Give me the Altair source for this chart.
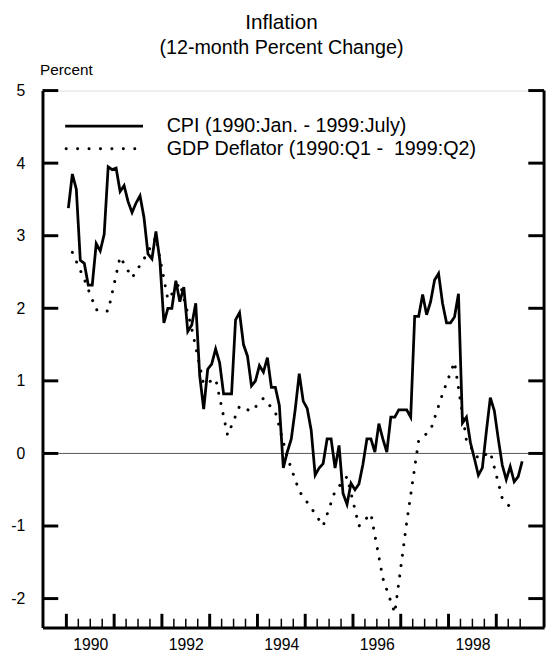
import altair as alt
import pandas as pd

# ---- data ----
cpi_values = [3.38, 3.85, 3.64, 2.66, 2.62, 2.32, 2.32, 2.89, 2.79, 3.02,
              3.95, 3.91, 3.93, 3.61, 3.69, 3.47, 3.32, 3.45, 3.55, 3.25,
              2.75, 2.68, 3.06, 2.65, 1.80, 2.00, 2.00, 2.38, 2.09, 2.29,
              1.68, 1.77, 2.07, 1.07, 0.61, 1.16, 1.23, 1.44, 1.25, 0.82,
              0.82, 0.82, 1.84, 1.94, 1.50, 1.34, 0.93, 1.00, 1.21, 1.12,
              1.32, 0.91, 0.91, 0.66, -0.20, 0.02, 0.20, 0.61, 1.10, 0.72,
              0.62, 0.32, -0.30, -0.20, -0.14, 0.20, 0.20, -0.20, 0.11, -0.55,
              -0.70, -0.41, -0.50, -0.42, -0.15, 0.20, 0.20, 0.02, 0.41, 0.20,
              0.02, 0.50, 0.50, 0.60, 0.60, 0.60, 0.50, 1.89, 1.89, 2.19,
              1.91, 2.09, 2.39, 2.48, 2.07, 1.80, 1.80, 1.88, 2.20, 0.42,
              0.50, 0.15, -0.07, -0.30, -0.20, 0.30, 0.77, 0.59, 0.20, -0.16,
              -0.36, -0.18, -0.39, -0.32, -0.11]
gdp_values = [2.77, 2.40, 1.98, 1.96, 2.71, 2.42, 2.68, 2.98, 2.12, 2.35,
              1.72, 0.95, 1.03, 0.25, 0.65, 0.58, 0.76, 0.57, -0.05, -0.52,
              -0.75, -1.00, -0.52, -0.32, -1.00, -0.83, -1.72, -2.20, -0.95, 0.18,
              0.32, 0.82, 1.26, 0.18, -0.07, 0.02, -0.62, -0.80]
series_names = ["CPI (1990:Jan. - 1999:July)", "GDP Deflator (1990:Q1 -\u00a0 1999:Q2)"]
y_tick_values = [-2, -1, 0, 1, 2, 3, 4, 5]
year_ticks = list(range(1990, 2000))
quarter_ticks = [1990 + k * 0.25 for k in range(1, 39) if k % 4 != 0]
label_years = [1990, 1992, 1994, 1996, 1998]

W, H = 509, 545
FONT = "Liberation Sans"

cpi_df = pd.DataFrame({"t": [1990 + (m + 0.5) / 12 for m in range(len(cpi_values))],
                       "v": cpi_values})
gdp_df = pd.DataFrame({"t": [1990 + (3 * q + 1.5) / 12 for q in range(len(gdp_values))],
                       "v": gdp_values})
ytick_df = pd.DataFrame({"v": y_tick_values})
zero_df = pd.DataFrame({"v": [0]})
major_df = pd.DataFrame({"t": year_ticks})
minor_df = pd.DataFrame({"t": quarter_ticks})
leg1 = pd.DataFrame({"name": [series_names[0]]})
leg2 = pd.DataFrame({"name": [series_names[1]]})

xscale = alt.Scale(domain=[1989.5, 2000], nice=False, zero=False)
yscale = alt.Scale(domain=[-2.4, 5], nice=False, zero=False)

X = alt.X("t:Q", scale=xscale,
          axis=alt.Axis(values=[y + 0.5 for y in label_years],
                        labelExpr="'' + floor(datum.value)",
                        ticks=False, tickSize=0, grid=False, domainWidth=3,
                        domainColor="black", labelFontSize=16, labelPadding=9,
                        labelColor="black", labelFont=FONT, title=None))
Y = alt.Y("v:Q", scale=yscale,
          axis=alt.Axis(values=y_tick_values, ticks=False, tickSize=0, grid=False,
                        labelExpr="datum.value < 0 ? '-' + abs(datum.value) : '' + datum.value",
                        domainWidth=3, domainColor="black", labelFontSize=16,
                        labelPadding=18, labelColor="black", labelFont=FONT,
                        title="Percent", titleAngle=0, titleX=-3, titleY=-21,
                        titleAlign="left", titleBaseline="middle",
                        titleFontWeight="normal", titleFontSize=15.5,
                        titleFont=FONT, titleColor="black"))

zero = alt.Chart(zero_df).mark_rule(color="#555555", strokeWidth=1).encode(
    y=Y, x=alt.value(0), x2=alt.value(W))

gdp = alt.Chart(gdp_df).mark_line(color="black", strokeWidth=3, strokeCap="round",
                                  strokeDash=[0.1, 10.5]).encode(x=X, y=Y)
cpi = alt.Chart(cpi_df).mark_line(color="black", strokeWidth=2.8).encode(x=X, y=Y)

ytl = alt.Chart(ytick_df).mark_rule(color="black", strokeWidth=3).encode(
    y=Y, x=alt.value(0), x2=alt.value(16))
ytr = alt.Chart(ytick_df).mark_rule(color="black", strokeWidth=3).encode(
    y=Y, x=alt.value(W - 16), x2=alt.value(W))
right_axis = alt.Chart(zero_df).mark_rule(color="black", strokeWidth=3).encode(
    x=alt.value(W), y=alt.value(0), y2=alt.value(H))
xmaj = alt.Chart(major_df).mark_rule(color="black", strokeWidth=3).encode(
    x=X, y=alt.value(H), y2=alt.value(H - 14))
xmin = alt.Chart(minor_df).mark_rule(color="black", strokeWidth=1.5).encode(
    x=X, y=alt.value(H), y2=alt.value(H - 9))

leg_line1 = alt.Chart(leg1).mark_rule(color="black", strokeWidth=2.8).encode(
    x=alt.value(23), x2=alt.value(102), y=alt.value(36))
leg_line2 = alt.Chart(leg2).mark_rule(color="black", strokeWidth=3, strokeCap="round",
                                      strokeDash=[0.1, 11.5]).encode(
    x=alt.value(24), x2=alt.value(102), y=alt.value(59))
leg_text1 = alt.Chart(leg1).mark_text(align="left", baseline="middle", fontSize=20,
                                      font=FONT, color="black").encode(
    text="name:N", x=alt.value(126), y=alt.value(36))
leg_text2 = alt.Chart(leg2).mark_text(align="left", baseline="middle", fontSize=20,
                                      font=FONT, color="black").encode(
    text="name:N", x=alt.value(126), y=alt.value(59))

chart = alt.layer(
    zero, gdp, cpi, ytl, ytr, right_axis, xmaj, xmin,
    leg_line1, leg_line2, leg_text1, leg_text2
).properties(
    width=W, height=H,
    title=alt.TitleParams(text="Inflation", subtitle="(12-month Percent Change)",
                          fontSize=21, subtitleFontSize=20, fontWeight="normal",
                          font=FONT, subtitleFont=FONT, color="black",
                          subtitleColor="black", anchor="middle", dx=-12,
                          offset=5, subtitlePadding=5),
    autosize=alt.AutoSizeParams(type="none"),
    padding={"left": 35, "top": 79, "right": 4, "bottom": 22},
).configure_view(stroke=None).configure(background="white")

chart.save("out.html", embed_options={"renderer": "svg", "actions": False})
